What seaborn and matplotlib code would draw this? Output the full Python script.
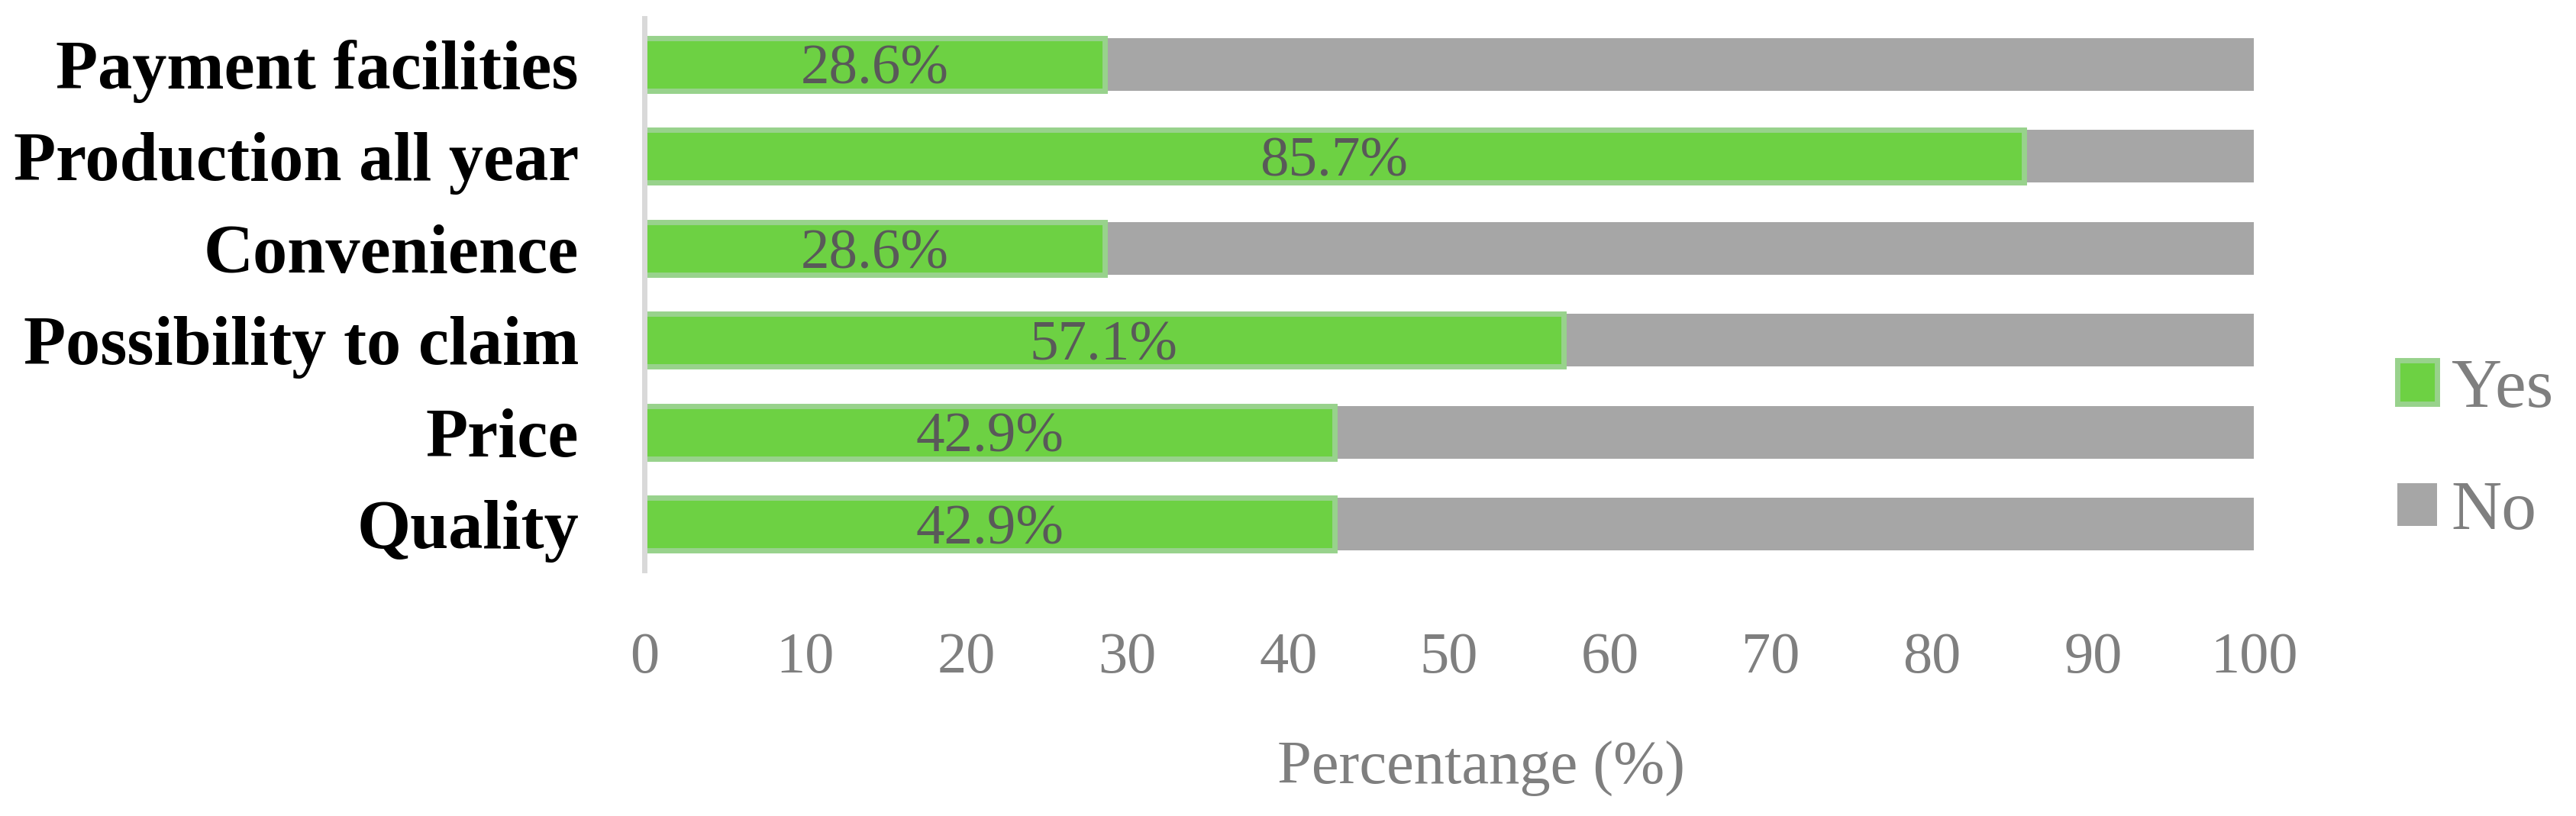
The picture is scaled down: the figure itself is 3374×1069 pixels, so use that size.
import matplotlib
matplotlib.use("Agg")
import matplotlib.pyplot as plt
import seaborn as sns
import pandas as pd

categories = ["Payment facilities", "Production all year", "Convenience",
              "Possibility to claim", "Price", "Quality"]
yes_values = [28.6, 85.7, 28.6, 57.1, 42.9, 42.9]
no_values = [71.4, 14.3, 71.4, 42.9, 57.1, 57.1]
x_ticks = [0, 10, 20, 30, 40, 50, 60, 70, 80, 90, 100]
series_labels = ["Yes", "No"]
x_title = "Percentange (%)"

sns.set_theme(style="white")
plt.rcParams["font.family"] = ["Liberation Serif", "DejaVu Serif"]

df = pd.DataFrame({"cat": categories, "yes": yes_values, "no": no_values})
df["total"] = df["yes"] + df["no"]

W, H = 3374, 1069
fig = plt.figure(figsize=(W / 100, H / 100), dpi=100)
ax = fig.add_axes([844 / W, 322 / H, (2952 - 844) / W, (747 - 24) / H])

GREEN = "#6dd143"
GREEN_EDGE = "#98d28c"
GRAY = "#a6a6a6"
TXT = "#7f7f7f"

sns.barplot(data=df, x="total", y="cat", color=GRAY, width=0.575,
            saturation=1, linewidth=0, ax=ax, order=categories)
sns.barplot(data=df, x="yes", y="cat", color=GREEN, width=0.575,
            saturation=1, edgecolor=GREEN_EDGE, linewidth=5, ax=ax,
            order=categories)

ax.set_xlim(0, 100)
ax.set_ylim(5.5, -0.5)
ax.set_xticks(x_ticks)
ax.set_xlabel("")
ax.set_ylabel("")

for s in ["top", "right", "bottom"]:
    ax.spines[s].set_visible(False)
ax.spines["left"].set_color("#d9d9d9")
ax.spines["left"].set_linewidth(5)

ax.tick_params(axis="x", length=0, pad=58, labelsize=55, labelcolor=TXT)
ax.tick_params(axis="y", length=0, pad=62, labelsize=65)
for lab in ax.get_yticklabels():
    lab.set_fontweight("bold")
    lab.set_color("black")

ax.text(0.52, -0.36, x_title, transform=ax.transAxes, ha="center",
        va="center", fontsize=58, color=TXT)

texts = ax.bar_label(ax.containers[1], labels=[f"{v}%" for v in yes_values],
                     label_type="center", fontsize=54, color="#595959")
for t in texts:
    t.set_va("center_baseline")

leg = ax.legend(handles=[ax.containers[1], ax.containers[0]],
                labels=series_labels, loc="center left",
                bbox_to_anchor=(3140 / W, (H - 591) / H),
                bbox_transform=fig.transFigure, frameon=False,
                fontsize=66, handlelength=0.57, handleheight=0.57,
                handletextpad=0.2, labelspacing=0.85, borderpad=0,
                borderaxespad=0)
for t in leg.get_texts():
    t.set_color(TXT)

fig.savefig("out.png", dpi=100)
